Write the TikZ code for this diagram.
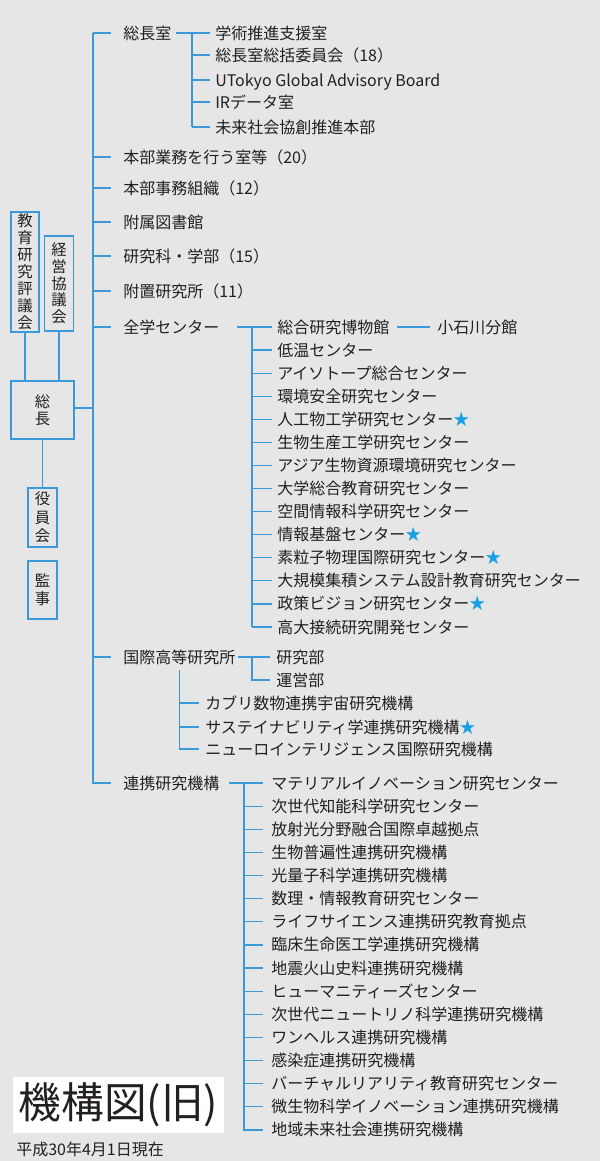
\documentclass[tikz,border=0pt]{standalone}
\usepackage{fontspec}
\setmainfont{Noto Sans CJK JP}
\usetikzlibrary{calc}
\definecolor{bgc}{HTML}{E6E6E6}
\definecolor{lb}{HTML}{3A9AD9}
\definecolor{stb}{HTML}{1BA0E2}
\definecolor{tx}{HTML}{231F20}
\newcommand\bst{{\color{stb}★}}
\begin{document}
\begin{tikzpicture}[x=0.75pt,y=-0.75pt,
  lbl/.style={anchor=west,inner sep=0pt,text height=10.5pt,text depth=1.5pt,font=\fontsize{12}{14}\selectfont,text=tx},
  ln/.style={draw=lb,line width=0.9pt},
  vb/.style={draw=lb,line width=0.9pt,inner sep=0pt,align=center,text=tx}]
\fill[bgc] (0,0) rectangle (600,1161);
\useasboundingbox (0,0) rectangle (600,1161);

% left boxes
\node[vb,minimum width=21pt,minimum height=90pt,font=\fontsize{11.5}{12.75}\selectfont] (kyo) at (25,272) {教\\育\\研\\究\\評\\議\\会};
\node[vb,minimum width=21.75pt,minimum height=71.25pt,font=\fontsize{11.5}{12.5}\selectfont] (kei) at (59,283.5) {経\\営\\協\\議\\会};
\node[vb,minimum width=47.25pt,minimum height=43.5pt,font=\fontsize{11.5}{12.5}\selectfont] (soc) at (42.5,410) {総\\長};
\node[vb,minimum width=21.75pt,minimum height=44.25pt,font=\fontsize{11.5}{13.9}\selectfont] (yak) at (42.5,517.5) {役\\員\\会};
\node[vb,minimum width=21.75pt,minimum height=43.5pt,font=\fontsize{11.5}{13.5}\selectfont] (kan) at (42.5,590) {監\\事};
\draw[ln] (kyo.south) -- (kyo.south |- soc.north);
\draw[ln] (kei.south) -- (kei.south |- soc.north);
\draw[ln] (soc.south) -- (yak.north);

% level 1
\node[lbl] (a1) at (123,33) {総長室};
\node[lbl] (a2) at (123,157) {本部業務を行う室等（20）};
\node[lbl] (a3) at (123,188) {本部事務組織（12）};
\node[lbl] (a4) at (123,222) {附属図書館};
\node[lbl] (a5) at (123,256) {研究科・学部（15）};
\node[lbl] (a6) at (123,291) {附置研究所（11）};
\node[lbl] (a7) at (123,327) {全学センター};
\node[lbl] (a8) at (123,657) {国際高等研究所};
\node[lbl] (a9) at (123,783) {連携研究機構};
\coordinate (T) at (93,33);
\draw[ln] (T) -- (T |- a9.west) -- ($(a9.west)+(-12,0)$);
\foreach \n in {a1,a2,a3,a4,a5,a6,a7,a8}
  \draw[ln] (T |- \n.west) -- ($(\n.west)+(-12,0)$);
\draw[ln] (soc.east |- 0,408) -- (T |- 0,408);

% 総長室 children
\foreach \t/\y [count=\i] in {学術推進支援室/33,総長室総括委員会（18）/55,UTokyo Global Advisory Board/80,IRデータ室/102,未来社会協創推進本部/127}
  \node[lbl] (s\i) at (215,\y) {\t};
\coordinate (V1) at (192,33);
\draw[ln] ($(a1.east)+(4,0)$) -- ($(s1.west)+(-5,0)$);
\draw[ln] (V1 |- s1.west) -- (V1 |- s5.west);
\foreach \i in {2,3,4,5}
  \draw[ln] (V1 |- s\i.west) -- ($(s\i.west)+(-5,0)$);

% 全学センター children
\foreach \t [count=\i] in {総合研究博物館,低温センター,アイソトープ総合センター,環境安全研究センター,人工物工学研究センター\bst,生物生産工学研究センター,アジア生物資源環境研究センター,大学総合教育研究センター,空間情報科学研究センター,情報基盤センター\bst,素粒子物理国際研究センター\bst,大規模集積システム設計教育研究センター,政策ビジョン研究センター\bst,高大接続研究開発センター}
  \node[lbl] (z\i) at (277,{327+23.08*(\i-1)}) {\t};
\node[lbl] (ko) at (437,327) {小石川分館};
\draw[ln] ($(z1.east)+(7,0)$) -- ($(ko.west)+(-7,0)$);
\coordinate (V2) at (252,327);
\draw[ln] ($(a7.east)+(17,0)$) -- ($(z1.west)+(-5,0)$);
\draw[ln] (V2 |- z1.west) -- (V2 |- z14.west);
\foreach \i in {2,...,14}
  \draw[ln] (V2 |- z\i.west) -- ($(z\i.west)+(-5,0)$);

% 国際高等研究所
\node[lbl] (k1) at (276,657) {研究部};
\node[lbl] (k2) at (276,680) {運営部};
\coordinate (V3) at (252,657);
\draw[ln] ($(a8.east)+(2,0)$) -- ($(k1.west)+(-6,0)$);
\draw[ln] (V3 |- k1.west) -- (V3 |- k2.west) -- ($(k2.west)+(-6,0)$);
\foreach \t/\y [count=\i] in {カブリ数物連携宇宙研究機構/703,サステイナビリティ学連携研究機構\bst/727,ニューロインテリジェンス国際研究機構/749}
  \node[lbl] (m\i) at (205,\y) {\t};
\coordinate (V4) at ($(a8.south)+(0,5)$);
\draw[ln] (V4) -- (V4 |- m3.west) -- ($(m3.west)+(-6,0)$);
\foreach \i in {1,2}
  \draw[ln] (V4 |- m\i.west) -- ($(m\i.west)+(-6,0)$);

% 連携研究機構 children
\foreach \t [count=\i] in {マテリアルイノベーション研究センター,次世代知能科学研究センター,放射光分野融合国際卓越拠点,生物普遍性連携研究機構,光量子科学連携研究機構,数理・情報教育研究センター,ライフサイエンス連携研究教育拠点,臨床生命医工学連携研究機構,地震火山史料連携研究機構,ヒューマニティーズセンター,次世代ニュートリノ科学連携研究機構,ワンヘルス連携研究機構,感染症連携研究機構,バーチャルリアリティ教育研究センター,微生物科学イノベーション連携研究機構,地域未来社会連携研究機構}
  \node[lbl] (r\i) at (271,{783+23.13*(\i-1)}) {\t};
\coordinate (V5) at (244,783);
\draw[ln] ($(a9.east)+(9,0)$) -- ($(r1.west)+(-8,0)$);
\draw[ln] (V5 |- r1.west) -- (V5 |- r16.west) -- ($(r16.west)+(-8,0)$);
\foreach \i in {2,...,15}
  \draw[ln] (V5 |- r\i.west) -- ($(r\i.west)+(-8,0)$);

% title
\node[fill=white,inner sep=0pt,minimum width=158.25pt,minimum height=42pt,font=\fontsize{32}{36}\selectfont,text=tx] (title) at (118.5,1105) {機構図(旧)};
\node[anchor=west,inner sep=0pt,font=\fontsize{12}{14}\selectfont,text=tx] (sub) at (16,1149) {平成30年4月1日現在};
\end{tikzpicture}
\end{document}
